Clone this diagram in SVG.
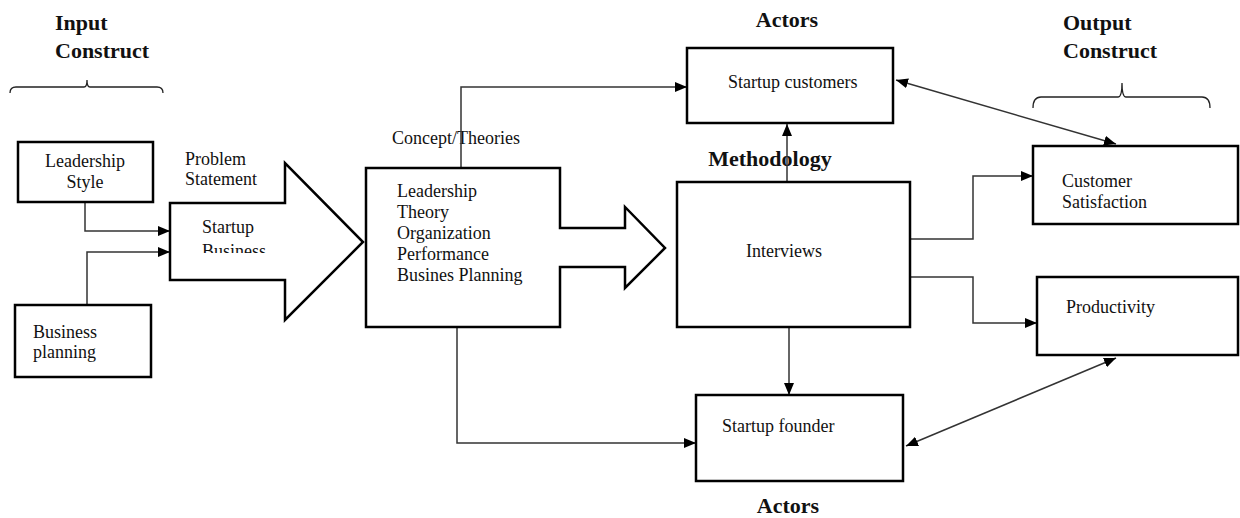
<svg xmlns="http://www.w3.org/2000/svg" width="1240" height="518" viewBox="0 0 1240 518">
<style>
text{font-family:"Liberation Serif","Times New Roman",serif;fill:#111}
.b{font-size:18px}
.h{font-size:22px;font-weight:bold}
.box{fill:#fff;stroke:#000;stroke-width:2.5}
.c{fill:none;stroke:#333;stroke-width:1.5}
.br{fill:none;stroke:#222;stroke-width:1.3}
</style>
<defs>
<marker id="ah" viewBox="0 0 12 10" refX="12" refY="5" markerWidth="12" markerHeight="10" markerUnits="userSpaceOnUse" orient="auto-start-reverse">
<path d="M0,0 L12,5 L0,10 z" fill="#000"/>
</marker>
<clipPath id="clipB"><rect x="170" y="200" width="200" height="53"/></clipPath>
</defs>

<g id="labels">
<text class="h" x="55" y="30">Input</text>
<text class="h" x="55" y="58">Construct</text>
<text class="h" x="1063" y="30">Output</text>
<text class="h" x="1063" y="58">Construct</text>
<text class="h" x="787" y="27" text-anchor="middle">Actors</text>
<text class="h" x="788" y="513" text-anchor="middle">Actors</text>
<text class="h" x="770" y="166" text-anchor="middle">Methodology</text>
<text class="b" x="185" y="165">Problem</text>
<text class="b" x="185" y="185">Statement</text>
<text class="b" x="392" y="144">Concept/Theories</text>
</g>

<g id="braces">
<path class="br" d="M10,93 Q10,87 16,87 L84,87 Q87,87 87,80 Q87,87 90,87 L157,87 Q163,87 163,93"/>
<path class="br" d="M1033,108 Q1033,97 1041,97 L1118,97 Q1122,97 1122,83 Q1122,97 1126,97 L1202,97 Q1210,97 1210,108"/>
</g>

<g id="connectors">
<path class="c" d="M85,202 L85,231 L170,231" marker-end="url(#ah)"/>
<path class="c" d="M87,305 L87,252 L170,252" marker-end="url(#ah)"/>
<path class="c" d="M461,168 L461,87 L687,87" marker-end="url(#ah)"/>
<path class="c" d="M457,327 L457,443 L696,443" marker-end="url(#ah)"/>
<path class="c" d="M787,182 L787,124" marker-end="url(#ah)"/>
<path class="c" d="M789,327 L789,395" marker-end="url(#ah)"/>
<path class="c" d="M910,239 L973,239 L973,176 L1033,176" marker-end="url(#ah)"/>
<path class="c" d="M910,277 L973,277 L973,323 L1037,323" marker-end="url(#ah)"/>
<path class="c" d="M896,80 L1116,144" marker-start="url(#ah)" marker-end="url(#ah)"/>
<path class="c" d="M906,446 L1116,358" marker-start="url(#ah)" marker-end="url(#ah)"/>
</g>

<g id="leadership-style">
<rect class="box" x="18" y="142" width="135" height="60"/>
<text class="b" x="85" y="167" text-anchor="middle">Leadership</text>
<text class="b" x="85" y="188" text-anchor="middle">Style</text>
</g>

<g id="business-planning">
<rect class="box" x="15" y="305" width="136" height="72"/>
<text class="b" x="33" y="338">Business</text>
<text class="b" x="33" y="358">planning</text>
</g>

<g id="startup-business">
<path class="box" d="M170,203 L285,203 L285,163 L363,242 L285,320 L285,280 L170,280 Z"/>
<text class="b" x="202" y="233">Startup</text>
<text class="b" x="202" y="257" clip-path="url(#clipB)">Business</text>
</g>

<g id="concept-theories">
<path class="box" d="M366,168 L560,168 L560,228 L625,228 L625,207 L665,248 L625,288 L625,267 L560,267 L560,327 L366,327 Z"/>
<text class="b" x="397" y="197">Leadership</text>
<text class="b" x="397" y="218">Theory</text>
<text class="b" x="397" y="239">Organization</text>
<text class="b" x="397" y="260">Performance</text>
<text class="b" x="397" y="281">Busines Planning</text>
</g>

<g id="startup-customers">
<rect class="box" x="687" y="48" width="206" height="75"/>
<text class="b" x="728" y="88">Startup customers</text>
</g>

<g id="interviews">
<rect class="box" x="677" y="182" width="233" height="145"/>
<text class="b" x="746" y="257">Interviews</text>
</g>

<g id="startup-founder">
<rect class="box" x="696" y="395" width="207" height="86"/>
<text class="b" x="722" y="432">Startup founder</text>
</g>

<g id="customer-satisfaction">
<rect class="box" x="1033" y="146" width="205" height="78"/>
<text class="b" x="1062" y="187">Customer</text>
<text class="b" x="1062" y="208">Satisfaction</text>
</g>

<g id="productivity">
<rect class="box" x="1037" y="277" width="201" height="78"/>
<text class="b" x="1066" y="313">Productivity</text>
</g>
</svg>
